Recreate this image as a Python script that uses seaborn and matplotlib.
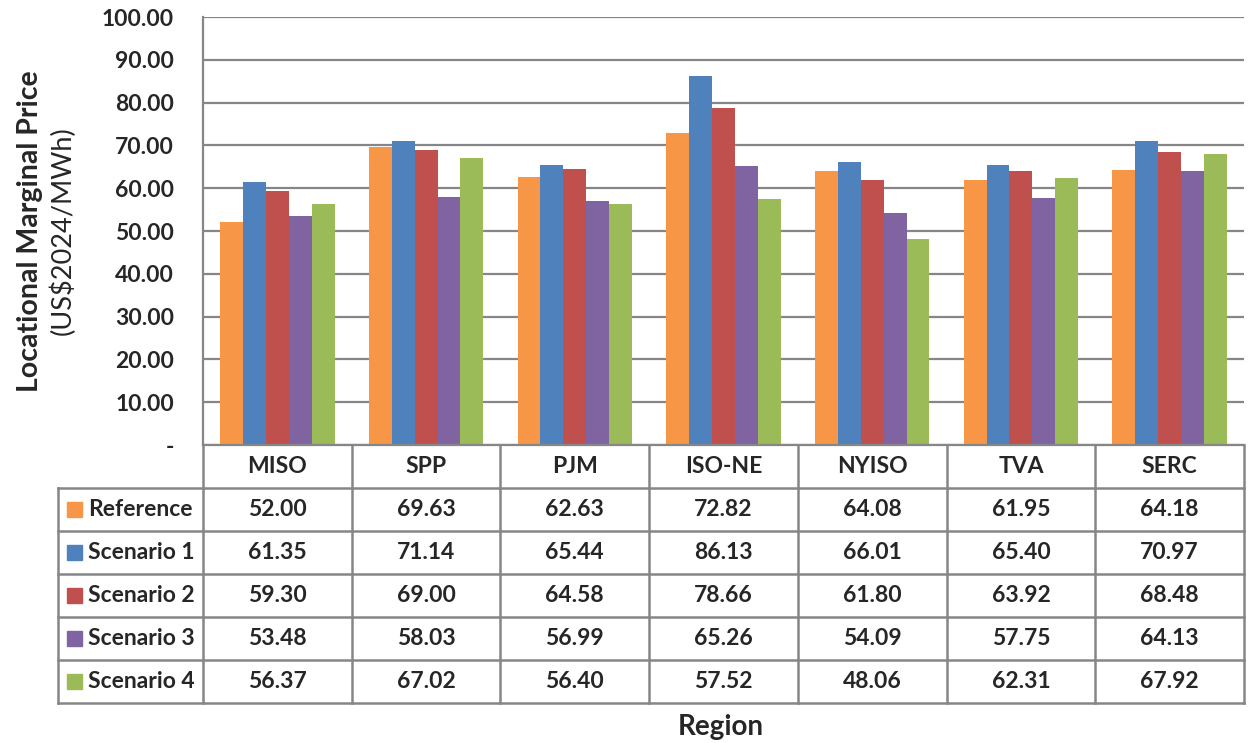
import pandas as pd
import matplotlib.pyplot as plt
import matplotlib.patches as mpatches
import seaborn as sns

regions = ['MISO', 'SPP', 'PJM', 'ISO-NE', 'NYISO', 'TVA', 'SERC']
series = ['Reference', 'Scenario 1', 'Scenario 2', 'Scenario 3', 'Scenario 4']
reference = [52.00, 69.63, 62.63, 72.82, 64.08, 61.95, 64.18]
scenario1 = [61.35, 71.14, 65.44, 86.13, 66.01, 65.40, 70.97]
scenario2 = [59.30, 69.00, 64.58, 78.66, 61.80, 63.92, 68.48]
scenario3 = [53.48, 58.03, 56.99, 65.26, 54.09, 57.75, 64.13]
scenario4 = [56.37, 67.02, 56.40, 57.52, 48.06, 62.31, 67.92]
colors = ['#F79646', '#4F81BD', '#C0504D', '#8064A2', '#9BBB59']

values = [reference, scenario1, scenario2, scenario3, scenario4]
df = pd.DataFrame({'Region': regions * len(series),
                   'Series': [s for s in series for _ in regions],
                   'LMP': [v for vals in values for v in vals]})

sns.set_style('white')
plt.rcParams['font.family'] = ['Lato', 'DejaVu Sans']

W, H = 1248, 743
fig = plt.figure(figsize=(W / 100, H / 100), dpi=100)
grey = '#868686'
fs = 16.5

# main plot area (pixel box 203..1244 x 17..445)
ax = fig.add_axes([203 / W, 1 - 445 / H, (1244 - 203) / W, (445 - 17) / H])
sns.barplot(data=df, x='Region', y='LMP', hue='Series', order=regions,
            hue_order=series, palette=colors, width=0.77, gap=0,
            saturation=1, legend=False, ax=ax, linewidth=0)
ax.set_xlim(-0.5, 6.5)
ax.set_ylim(0, 100)
ax.set_yticks(range(0, 101, 10))
ax.set_yticklabels(['-'] + [f'{v:.2f}' for v in range(10, 101, 10)],
                   fontsize=fs, fontweight='bold')
ax.tick_params(axis='y', length=0, pad=21)
ax.set_xticks([])
ax.set_xlabel('')
ax.set_ylabel('')
ax.grid(axis='y', color=grey, lw=1.6)
ax.set_axisbelow(True)
for s in ['top', 'right']:
    ax.spines[s].set_visible(False)
for s in ['left', 'bottom']:
    ax.spines[s].set_color(grey)
    ax.spines[s].set_linewidth(1.6)

# data table under the plot
tax = fig.add_axes([58 / W, 1 - 703 / H, (1244 - 58) / W, (703 - 445) / H])
x0 = -0.5 - (203 - 58) / ((1244 - 203) / 7)
tax.set_xlim(x0, 6.5)
tax.set_ylim(6, 0)
tax.axis('off')
lkw = dict(color=grey, lw=1.8, clip_on=False, solid_capstyle='projecting')
for r in range(1, 7):
    tax.plot([x0, 6.5], [r, r], **lkw)
tax.plot([x0, x0], [1, 6], **lkw)
for c in range(8):
    tax.plot([c - 0.5, c - 0.5], [0, 6], **lkw)

for i, reg in enumerate(regions):
    tax.text(i, 0.5, reg, ha='center', va='center', fontsize=fs, fontweight='bold')
for r, (name, vals, col) in enumerate(zip(series, values, colors), start=1):
    tax.add_patch(mpatches.Rectangle((x0 + 0.06, r + 0.33), 0.1, 0.35,
                                     color=col, clip_on=False))
    tax.text(x0 + 0.2, r + 0.5, name, ha='left', va='center', fontsize=fs, fontweight='bold')
    for i, v in enumerate(vals):
        tax.text(i, r + 0.5, f'{v:.2f}', ha='center', va='center', fontsize=fs, fontweight='bold')

fig.text(30 / W, 1 - 231 / H, 'Locational Marginal Price', rotation=90,
         ha='center', va='center', fontsize=20.5, fontweight='bold')
fig.text(63 / W, 1 - 231 / H, '(US$2024/MWh)', rotation=90,
         ha='center', va='center', fontsize=19.5)
fig.text(721 / W, 1 - 727 / H, 'Region', ha='center', va='center',
         fontsize=20, fontweight='bold')

plt.savefig('out.png', dpi=100)
